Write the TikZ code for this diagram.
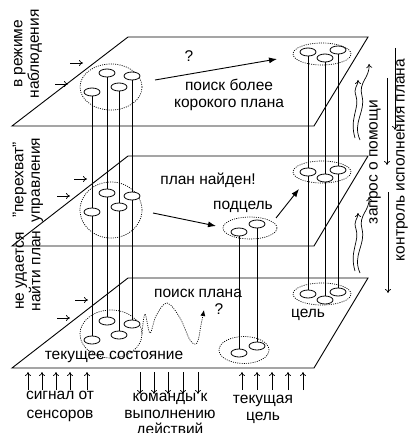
\documentclass[tikz,border=0pt]{standalone}
\usepackage{fontspec}
\setmainfont{Liberation Sans}
\usetikzlibrary{shapes.geometric,arrows.meta}
\pgfdeclarelayer{bg}
\pgfsetlayers{bg,main}
\begin{document}
\begin{tikzpicture}[x=1pt,y=-1pt,
  lbl/.style={font=\fontsize{15.5}{16.5}\selectfont, inner sep=0pt, align=center},
  plane/.style={draw, line width=0.9pt},
  se/.style={draw, ellipse, fill=white, minimum width=16pt, minimum height=8pt, inner sep=0pt, line width=0.8pt},
  grp/.style={draw, ellipse, inner sep=0pt, line width=0.7pt, dash pattern=on 1pt off 1.2pt},
  vl/.style={line width=0.8pt},
  big/.style={line width=0.9pt, -{Latex[length=8pt,width=6pt]}},
  sm/.style={line width=0.7pt, -{To[length=4pt,width=6pt]}},
]
\useasboundingbox (0,0) rectangle (409,433);
\clip (0,0) rectangle (409,433);

% planes
\draw[plane] (12,126) -- (314,126) -- (368,37) -- (128,37) -- cycle;
\draw[plane] (12,246) -- (314,246) -- (368,156) -- (128,156) -- cycle;
\draw[plane] (12,368) -- (314,368) -- (368,278) -- (128,278) -- cycle;

% group ellipses
\node[grp, minimum width=62pt, minimum height=46pt] (tlc) at (111,87) {};
\node[grp, minimum width=62pt, minimum height=56pt] (mlc) at (111,210) {};
\node[grp, minimum width=62pt, minimum height=48pt] (blc) at (111,334) {};
\node[grp, minimum width=58pt, minimum height=22pt] (trc) at (322,54) {};
\node[grp, minimum width=58pt, minimum height=22pt] (mrc) at (322,172) {};
\node[grp, minimum width=58pt, minimum height=22pt] (brc) at (322,294) {};
\node[grp, minimum width=54pt, minimum height=22pt] (msc) at (250,228) {};
\node[grp, minimum width=50pt, minimum height=27pt] (bsc) at (244,350) {};

% small ellipses
\node[se] (tl1) at (92,92) {};
\node[se] (tl2) at (107,73) {};
\node[se] (tl3) at (119,87) {};
\node[se] (tl4) at (132,76) {};
\node[se] (ml1) at (92,212) {};
\node[se] (ml2) at (107,193) {};
\node[se] (ml3) at (119,207) {};
\node[se] (ml4) at (132,196) {};
\node[se] (bl1) at (92,340) {};
\node[se] (bl2) at (107,321) {};
\node[se] (bl3) at (119,335) {};
\node[se] (bl4) at (132,324) {};
\node[se] (tr1) at (308,52) {};
\node[se] (tr2) at (325,58) {};
\node[se] (tr3) at (338,50) {};
\node[se] (mr1) at (308,172) {};
\node[se] (mr2) at (325,178) {};
\node[se] (mr3) at (338,170) {};
\node[se] (br1) at (308,294) {};
\node[se] (br2) at (325,300) {};
\node[se] (br3) at (338,292) {};
\node[se] (ms1) at (239,232) {};
\node[se] (ms2) at (257,224) {};
\node[se] (bs1) at (239,353) {};
\node[se] (bs2) at (257,346) {};

% vertical connectors behind ellipses
\begin{pgfonlayer}{bg}
\draw[vl] (tl1.center) -- (bl1.center);
\draw[vl] (tl2.center) -- (bl2.center);
\draw[vl] (tl3.center) -- (bl3.center);
\draw[vl] (tl4.center) -- (bl4.center);
\draw[vl] (tr1.center) -- (br1.center);
\draw[vl] (tr2.center) -- (br2.center);
\draw[vl] (tr3.center) -- (br3.center);
\draw[vl] (ms1.center) -- (bs1.center);
\draw[vl] (ms2.center) -- (bs2.center);
\end{pgfonlayer}

% main arrows
\coordinate (a1s) at (155,80);
\coordinate (a1e) at (277,59);
\draw[big] (a1s) -- (a1e);
\coordinate (a2s) at (153,213);
\coordinate (a2e) at (216,226);
\draw[big] (a2s) -- (a2e);
\coordinate (a3s) at (276,218);
\coordinate (a3e) at (299,189);
\draw[big] (a3s) -- (a3e);

% search wavy dotted path
\draw[line width=0.7pt, dash pattern=on 1pt off 1.2pt, -{Latex[length=6pt,width=5pt]}]
  plot[smooth, tension=0.6] coordinates {(142,333) (145,314) (150,333) (156,316) (167,303) (180,318) (190,340) (197,343) (201,325) (204,310)};

% left small arrows
\foreach \ya/\xa in {63/70, 84/55, 179/74, 196/57, 300/75, 318/57}{
  \draw[sm] (\xa,\ya) -- ++(13,0);
}

% bottom arrows
\foreach \xa in {28,42,56,70,87}{ \draw[sm] (\xa,390) -- (\xa,372); }
\foreach \xa in {140,154,168,183,198}{ \draw[sm] (\xa,372) -- (\xa,394); }
\foreach \xa in {242,257,272,288,303}{ \draw[sm] (\xa,390) -- (\xa,372); }

% right arrows (plan control)
\coordinate (ra1) at (395,48); \coordinate (ra2) at (395,130);
\draw[sm] (ra1) -- (ra2);
\coordinate (rb1) at (387,78); \coordinate (rb2) at (387,165);
\draw[sm] (rb1) -- (rb2);
\coordinate (rc1) at (388,192); \coordinate (rc2) at (388,293);
\draw[sm] (rc1) -- (rc2);

% wavy help-request arrows
\foreach \dy in {0,133}{
  \begin{scope}[yshift=-\dy pt]
  \draw[sm] (360,140) .. controls (352,122) and (366,112) .. (362,96) .. controls (358,82) and (370,78) .. (369,64);
  \draw[sm] (355,138) .. controls (349,118) and (360,108) .. (356,96) .. controls (353,88) and (358,86) .. (358,80);
  \end{scope}
}

% texts
\node[lbl] (q1) at (189,56) {?};
\node[lbl] (t1) at (229,95) {поиск более\\корокого плана};
\node[lbl] (t2) at (208,180) {план найден!};
\node[lbl] (t3) at (243,207) {подцель};
\node[lbl] (t4) at (198,293) {поиск плана};
\node[lbl] (q2) at (219,309) {?};
\node[lbl] (t5) at (308,315) {цель};
\node[lbl] (t6) at (114,357) {текущее состояние};
\node[lbl, anchor=north, font=\fontsize{15.5}{19}\selectfont] (t7) at (60,391) {сигнал от\\сенсоров};
\node[lbl, anchor=north] (t8) at (170,393) {команды к\\выполнению\\действий};
\node[lbl, anchor=north] (t9) at (263,395) {текущая\\цель};
\node[lbl, rotate=90] (l1) at (28,54) {в режиме\\наблюдения};
\node[lbl, rotate=90] (l2) at (28,180) {"перехват"\\управления};
\node[lbl, rotate=90] (l3) at (28,271) {не удается\\найти план};
\node[lbl, rotate=90] (r1) at (375,162) {запрос о помощи};
\node[lbl, rotate=90] (r2) at (402,160) {контроль исполнения плана};
\end{tikzpicture}
\end{document}
